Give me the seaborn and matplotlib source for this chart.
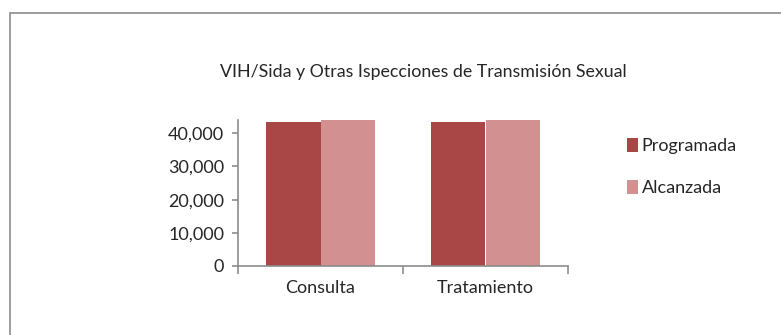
import matplotlib
matplotlib.use("Agg")
import matplotlib.pyplot as plt
from matplotlib.patches import Rectangle
from matplotlib.ticker import FuncFormatter, FixedLocator
import seaborn as sns
import pandas as pd

categories = ["Consulta", "Tratamiento"]
series = ["Programada", "Alcanzada"]
programada = [43400, 43400]
alcanzada = [44300, 44300]
yticks = [0, 10000, 20000, 30000, 40000]
title = "VIH/Sida y Otras Ispecciones de Transmisión Sexual"
colors = ["#A84746", "#D39091"]

df = pd.DataFrame({
    "categoria": categories * 2,
    "serie": [series[0]] * len(categories) + [series[1]] * len(categories),
    "valor": programada + alcanzada,
})

sns.set_theme(style="white")
plt.rcParams["font.family"] = ["Lato", "DejaVu Sans"]

fig = plt.figure(figsize=(7.81, 3.35), dpi=100)
ax = fig.add_axes([238 / 781, 1 - 266 / 335, 330 / 781, 146 / 335])

sns.barplot(data=df, x="categoria", y="valor", hue="serie", palette=colors,
            width=0.66, saturation=1, ax=ax, legend=True, linewidth=0)

ax.set_xlim(-0.5, 1.5)
ax.set_ylim(0, 44000)
ax.yaxis.set_major_locator(FixedLocator(yticks))
ax.yaxis.set_major_formatter(FuncFormatter(lambda v, p: f"{int(v):,}"))
ax.set_xlabel("")
ax.set_ylabel("")

for side in ["top", "right"]:
    ax.spines[side].set_visible(False)
for side in ["left", "bottom"]:
    ax.spines[side].set_color("#8C8C8C")
    ax.spines[side].set_linewidth(1.2)

# category boundary ticks on the x axis, labels centred under each group
ax.set_xticks([-0.5, 0.5, 1.5], minor=False)
ax.set_xticklabels(["", "", ""])
ax.set_xticks([0, 1], minor=True)
ax.set_xticklabels(categories, minor=True)
ax.tick_params(axis="x", which="major", bottom=True, length=6, color="#8C8C8C", width=1.2)
ax.tick_params(axis="x", which="minor", bottom=False, length=0, pad=10,
               labelsize=13, labelcolor="#262626")
ax.tick_params(axis="y", left=True, length=4, color="#8C8C8C", width=1.2,
               labelsize=13, labelcolor="#262626", pad=6)

leg = ax.legend(loc="upper left", bbox_to_anchor=(1.13, 0.99), frameon=False,
                fontsize=13, handlelength=0.6, handleheight=0.8,
                handletextpad=0.2, labelspacing=1.45)
for t in leg.get_texts():
    t.set_color("#262626")

fig.text(423 / 781, 1 - 72 / 335, title, ha="center", va="center",
         fontsize=12.8, color="#262626")

# outer chart frame
fig.patches.append(Rectangle((10 / 781, -0.1), 1.2, 1.1 - 13 / 335,
                             transform=fig.transFigure, fill=False,
                             edgecolor="#8C8C8C", linewidth=1.2))

fig.savefig("out.png", dpi=100, facecolor="white")
